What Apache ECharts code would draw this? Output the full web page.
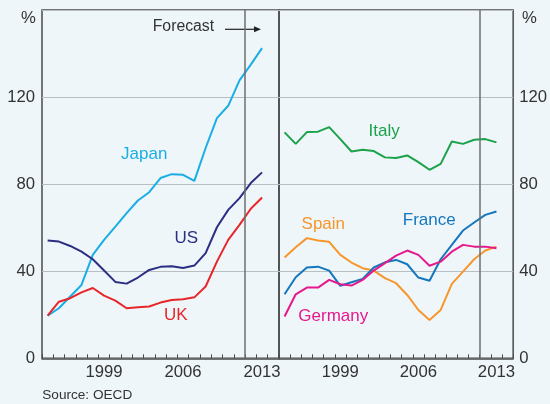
<!DOCTYPE html>
<html><head><meta charset="utf-8">
<script src="https://cdn.jsdelivr.net/npm/echarts@6/dist/echarts.min.js"></script>
<style>html,body{margin:0;padding:0;background:#EEF6F9;}#c{width:550px;height:404px;}</style>
</head><body><div id="c"></div>
<script>
const years = ['1994','1995','1996','1997','1998','1999','2000','2001','2002','2003','2004','2005','2006','2007','2008','2009','2010','2011','2012','2013','2014'];
const shownYears = ['1999','2006','2013'];
const forecastBoundary = 2011.5; // boundary between 2011 and 2012
const yTicks = [0, 40, 80, 120, 160];

const japan = [19.6,23,28.4,33.7,47.5,54.4,60.5,66.7,72.5,76.3,82.8,84.6,84.3,81.5,96.6,110.3,116,127.7,134.9,142.5];
const us = [54.1,53.6,51.6,49,45.5,40.3,35.1,34.3,37.1,40.6,42,42.3,41.5,42.6,48.3,60.2,68.2,73.6,80.5,85.4];
const uk = [19.6,26,27.6,30.3,32.3,28.8,26.5,23,23.4,23.8,25.6,26.8,27.1,28,33,44.4,54.4,61.3,68.7,73.9];

const italy = [103.8,98.5,103.9,104.1,106.2,100.7,95,95.8,95.2,92.3,92,93.2,90.1,86.6,89.3,99.6,98.5,100.4,100.7,99.2];
const spain = [46.3,51,55.2,54.1,53.5,47.5,44,41.4,40.3,36.8,34.5,29.1,22.2,17.6,22.2,34.2,39.8,45.5,49.5,51.3];
const france = [29.4,37.2,41.7,42.1,40.3,33.3,34.9,36.5,41.7,44.1,45.2,43.2,37.1,35.6,45.5,52.1,58.7,62.4,65.9,67.4];
const germany = [19.2,29.4,32.5,32.5,36,34,33.4,36,40.3,43.7,47.2,49.5,47.5,42.5,44.4,49,52.1,51.3,51.3,50.6];

const FONT = 'Liberation Sans, Arial, sans-serif';
const TXT = '#333333';
const FRAME = '#4a4a4a';

function xAxisFor(gi){
  return {
    type:'category', gridIndex:gi, data:years, boundaryGap:true,
    axisLine:{show:true, lineStyle:{color:FRAME, width:1.5}},
    axisTick:{show:true, inside:true, length:4, interval:0, lineStyle:{color:FRAME, width:1}},
    axisLabel:{interval:(i,v)=>shownYears.includes(v), color:TXT, fontFamily:FONT, fontSize:16.7, margin:6},
    splitLine:{show:false}
  };
}
function hiddenX(gi){
  return {type:'value', gridIndex:gi, min:+years[0]-0.5, max:+years[years.length-1]+0.5, show:false,
    splitLine:{show:false}};
}
function yAxisFor(gi, pos){
  return {
    type:'value', gridIndex:gi, min:0, max:160, interval:40, position:pos,
    axisLine:{show:false}, axisTick:{show:false},
    axisLabel:{show:true, color:TXT, fontFamily:FONT, fontSize:16.7, margin:pos==='left'?7:6,
      formatter:v=> v===160 ? '' : String(v)},
    splitLine:{show:true, lineStyle:{color:'#b9bec2', width:1}}
  };
}
function line(name, data, color, gi){
  return {type:'line', name, data, xAxisIndex:gi, yAxisIndex:gi, symbol:'none',
    lineStyle:{color, width:2}, itemStyle:{color}, animation:false, z:3};
}
function forecastLine(gi){
  return {type:'line', data:[], xAxisIndex:gi+2, yAxisIndex:gi, silent:true,
    markLine:{symbol:'none', silent:true, animation:false, label:{show:false},
      lineStyle:{color:'#6e6e6e', width:1.5, type:'solid'},
      data:[{xAxis:forecastBoundary}]}, z:2};
}
function label(text, cx, cy, color){
  return {type:'text', x:cx, y:cy, style:{text, fill:color, font:'17px '+FONT, align:'center', verticalAlign:'middle'}};
}

const chart = echarts.init(document.getElementById('c'), null, {renderer:'canvas'});
chart.setOption({
  backgroundColor:'#EEF6F9',
  animation:false,
  grid:[
    {left:42, right:271, top:10, bottom:45.7, show:true, borderColor:FRAME, borderWidth:1.5, backgroundColor:'transparent'},
    {left:279, right:34, top:10, bottom:45.7, show:true, borderColor:FRAME, borderWidth:1.5, backgroundColor:'transparent'}
  ],
  xAxis:[xAxisFor(0), xAxisFor(1), hiddenX(0), hiddenX(1)],
  yAxis:[yAxisFor(0,'left'), yAxisFor(1,'right')],
  series:[
    forecastLine(0), forecastLine(1),
    line('Japan', japan, '#1AAEE5', 0),
    line('US', us, '#2B2E83', 0),
    line('UK', uk, '#E8262A', 0),
    line('Italy', italy, '#1BA24B', 1),
    line('Spain', spain, '#F7962A', 1),
    line('France', france, '#1477BD', 1),
    line('Germany', germany, '#E6198C', 1)
  ],
  graphic:[
    {type:'text', x:28.5, y:18, style:{text:'%', fill:TXT, font:'16.7px '+FONT, align:'center', verticalAlign:'middle'}},
    {type:'text', x:529.5, y:18, style:{text:'%', fill:TXT, font:'16.7px '+FONT, align:'center', verticalAlign:'middle'}},
    {type:'text', x:152.7, y:26.7, style:{text:'Forecast', fill:TXT, font:'15.8px '+FONT, align:'left', verticalAlign:'middle'}},
    {type:'line', shape:{x1:225, y1:29.3, x2:255, y2:29.3}, style:{stroke:'#222', lineWidth:1.2}},
    {type:'polygon', shape:{points:[[254,26.3],[261,29.3],[254,32.3]]}, style:{fill:'#222'}},
    {type:'text', x:42.3, y:395, style:{text:'Source: OECD', fill:TXT, font:'13.6px '+FONT, align:'left', verticalAlign:'middle'}},
    label('Japan', 144.2, 154.3, '#1AAEE5'),
    label('US', 186.3, 238.3, '#2B2E83'),
    label('UK', 175.7, 315, '#E8262A'),
    label('Italy', 384.2, 131, '#1BA24B'),
    label('Spain', 323.3, 224, '#F7962A'),
    label('France', 429.2, 220, '#1477BD'),
    label('Germany', 333.3, 316.7, '#E6198C')
  ]
});
</script></body></html>
